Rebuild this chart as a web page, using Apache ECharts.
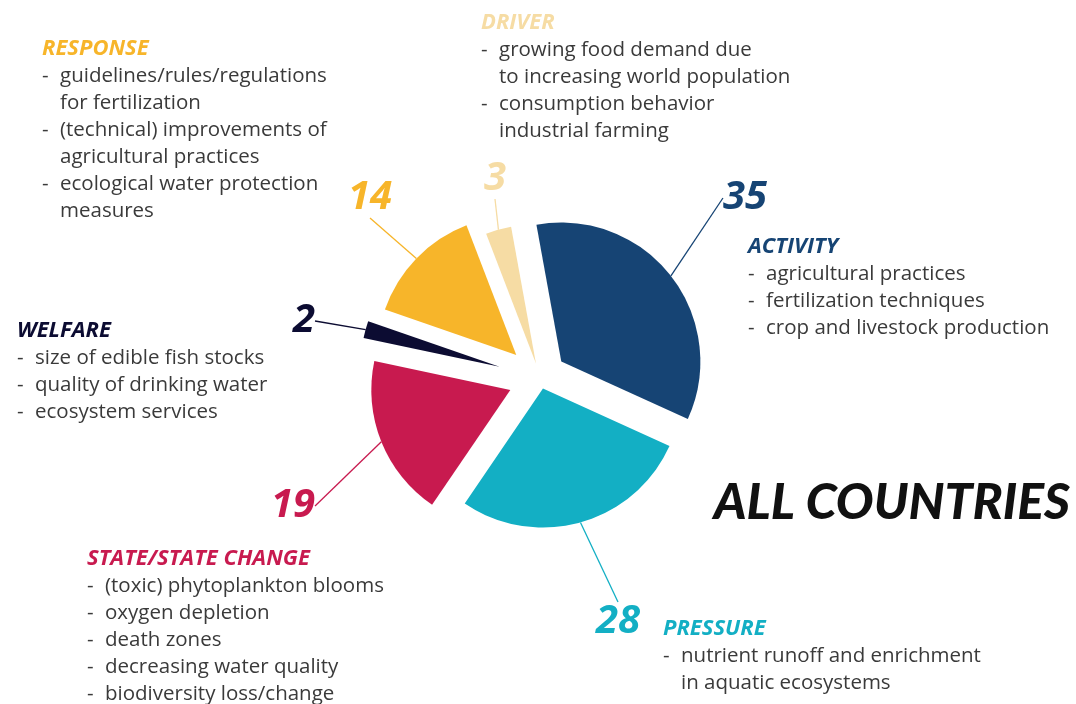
<!DOCTYPE html>
<html>
<head>
<meta charset="utf-8">
<script src="https://cdn.jsdelivr.net/npm/echarts@6/dist/echarts.min.js"></script>
<style>
  html, body { margin: 0; padding: 0; background: #fff; }
  #chart { width: 1076px; height: 704px; }
</style>
</head>
<body>
<div id="chart"></div>
<script>
// data
const categories = ['DRIVER', 'ACTIVITY', 'PRESSURE', 'STATE/STATE CHANGE', 'WELFARE', 'RESPONSE'];
const values = [3, 35, 28, 19, 2, 14];
const notes = [
    [['growing food demand due', 'to increasing world population'], ['consumption behavior', 'industrial farming']],
    [['agricultural practices'], ['fertilization techniques'], ['crop and livestock production']],
    [['nutrient runoff and enrichment', 'in aquatic ecosystems']],
    [['(toxic) phytoplankton blooms'], ['oxygen depletion'], ['death zones'], ['decreasing water quality'], ['biodiversity loss/change']],
    [['size of edible fish stocks'], ['quality of drinking water'], ['ecosystem services']],
    [['guidelines/rules/regulations', 'for fertilization'], ['(technical) improvements of', 'agricultural practices'], ['ecological water protection', 'measures']]
];
const title = 'ALL COUNTRIES';

// styles / layout
const colors = ['#f6dca4', '#164474', '#13afc4', '#c81a4f', '#0c0c32', '#f7b52a'];
const offsets = [15, 27, 11, 32, 42, 33];   // explode distance of each slice
const numberPos = [[495, 179], [745, 198], [618, 622], [293, 506], [304, 321], [370, 198]];
const notePos = [[481, 23], [748, 247], [663, 629], [87, 559], [17, 331], [42, 49]];
const pieCenter = [540, 378];
const startAngle = 111;
const bodyFont = '"Open Sans", "Noto Sans", sans-serif';
const lineH = 27;

const chart = echarts.init(document.getElementById('chart'));

const total = values.reduce((a, b) => a + b, 0);
let acc = 0;
const series = values.map((v, i) => {
    // push each slice out along its own middle angle
    const mid = (startAngle - 360 * (acc + v / 2) / total) * Math.PI / 180;
    acc += v;
    const c = [pieCenter[0] + Math.cos(mid) * offsets[i], pieCenter[1] - Math.sin(mid) * offsets[i]];
    return {
        type: 'pie',
        center: c,
        radius: [0, 139],
        startAngle: startAngle,
        clockwise: true,
        silent: true,
        avoidLabelOverlap: false,
        label: {
            show: true,
            position: 'outside',
            formatter: '{c}',
            color: colors[i],
            fontFamily: bodyFont,
            fontSize: 40,
            fontWeight: 'bold',
            fontStyle: 'italic'
        },
        labelLine: {
            show: true,
            length: 20,
            length2: 0,
            lineStyle: { color: colors[i], width: 1.3 }
        },
        labelLayout: {
            x: numberPos[i][0],
            y: numberPos[i][1],
            align: 'center',
            verticalAlign: 'middle'
        },
        data: values.map((w, j) => j === i
            ? { name: categories[j], value: w, itemStyle: { color: colors[j] } }
            : { name: categories[j], value: w, itemStyle: { color: 'rgba(0,0,0,0)' }, label: { show: false }, labelLine: { show: false } })
    };
});

// text blocks next to the slices
const graphic = [];
notes.forEach((bullets, i) => {
    const x = notePos[i][0];
    const hy = notePos[i][1];
    const dashes = [];
    const lines = [];
    bullets.forEach(b => b.forEach((l, k) => { dashes.push(k === 0 ? '-' : ''); lines.push(l); }));
    graphic.push({
        type: 'text', x: x, y: hy,
        style: { text: categories[i], fill: colors[i], font: 'italic bold 22px ' + bodyFont, verticalAlign: 'middle' }
    });
    graphic.push({
        type: 'text', x: x, y: hy + 13.5,
        style: { text: dashes.join('\n'), fill: '#3a3a3a', font: '20.5px ' + bodyFont, lineHeight: lineH }
    });
    graphic.push({
        type: 'text', x: x + 18, y: hy + 13.5,
        style: { text: lines.join('\n'), fill: '#3a3a3a', font: '20.5px ' + bodyFont, lineHeight: lineH }
    });
});
graphic.push({
    type: 'text', x: 1070, y: 503,
    style: { text: title, fill: '#111', font: 'italic 900 50px Lato, "Open Sans", sans-serif', align: 'right', verticalAlign: 'middle' }
});

chart.setOption({
    animation: false,
    backgroundColor: '#fff',
    graphic: graphic,
    series: series
});
</script>
</body>
</html>
